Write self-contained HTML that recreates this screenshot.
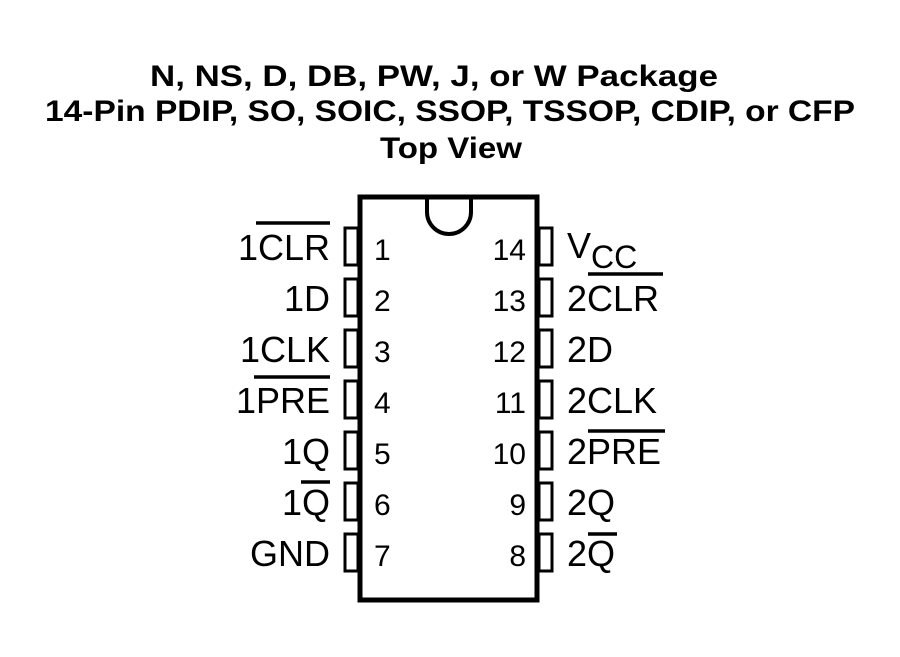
<!DOCTYPE html>
<html><head><style>html,body{margin:0;padding:0;background:#fff}</style></head>
<body>
<svg width="900" height="652" viewBox="0 0 900 652" xmlns="http://www.w3.org/2000/svg" font-family="Liberation Sans, Arial, sans-serif">
<rect width="900" height="652" fill="#fff"/>
<g font-weight="bold" font-size="30" text-anchor="middle" fill="#000">
<text x="434" y="86" textLength="568" lengthAdjust="spacingAndGlyphs">N, NS, D, DB, PW, J, or W Package</text>
<text x="450" y="121" textLength="810" lengthAdjust="spacingAndGlyphs">14-Pin PDIP, SO, SOIC, SSOP, TSSOP, CDIP, or CFP</text>
<text x="451" y="158" textLength="142" lengthAdjust="spacingAndGlyphs">Top View</text>
</g>
<rect x="360" y="197" width="177" height="403" fill="none" stroke="#000" stroke-width="5"/>
<path d="M427 197 V212 A22 22 0 0 0 471 212 V197" fill="none" stroke="#000" stroke-width="4"/>
<g fill="none" stroke="#000" stroke-width="3">
<rect x="345" y="228" width="13" height="37"/><rect x="345" y="279" width="13" height="37"/><rect x="345" y="330" width="13" height="37"/><rect x="345" y="381" width="13" height="37"/><rect x="345" y="432" width="13" height="37"/><rect x="345" y="483" width="13" height="37"/><rect x="345" y="534" width="13" height="37"/>
<rect x="539" y="228" width="13" height="37"/><rect x="539" y="279" width="13" height="37"/><rect x="539" y="330" width="13" height="37"/><rect x="539" y="381" width="13" height="37"/><rect x="539" y="432" width="13" height="37"/><rect x="539" y="483" width="13" height="37"/><rect x="539" y="534" width="13" height="37"/>
</g>
<g font-size="30" fill="#000">
<text x="374" y="260">1</text><text x="374" y="311">2</text><text x="374" y="362">3</text><text x="374" y="413">4</text><text x="374" y="464">5</text><text x="374" y="515">6</text><text x="374" y="566">7</text>
<g text-anchor="end"><text x="526" y="260">14</text><text x="526" y="311">13</text><text x="526" y="362">12</text><text x="526" y="413">11</text><text x="526" y="464">10</text><text x="526" y="515">9</text><text x="526" y="566">8</text></g>
</g>
<g font-size="36" fill="#000">
<g text-anchor="end">
<text x="330" y="260">1CLR</text><text x="330" y="311">1D</text><text x="330" y="362">1CLK</text><text x="330" y="413">1PRE</text><text x="330" y="464">1Q</text><text x="330" y="515">1Q</text><text x="330" y="566">GND</text>
</g>
<text x="567" y="258">V<tspan font-size="32" dy="10">CC</tspan></text>
<text x="567" y="311">2CLR</text><text x="567" y="362">2D</text><text x="567" y="413">2CLK</text><text x="567" y="464">2PRE</text><text x="567" y="515">2Q</text><text x="567" y="566">2Q</text>
</g>
<g stroke="#000" stroke-width="3.5">
<line x1="256" y1="223" x2="330" y2="223"/>
<line x1="254" y1="377" x2="330" y2="377"/>
<line x1="301" y1="482" x2="330" y2="482"/>
<line x1="588" y1="274" x2="663" y2="274"/>
<line x1="588" y1="431" x2="665" y2="431"/>
<line x1="588" y1="534" x2="617" y2="534"/>
</g>
</svg>
</body></html>
